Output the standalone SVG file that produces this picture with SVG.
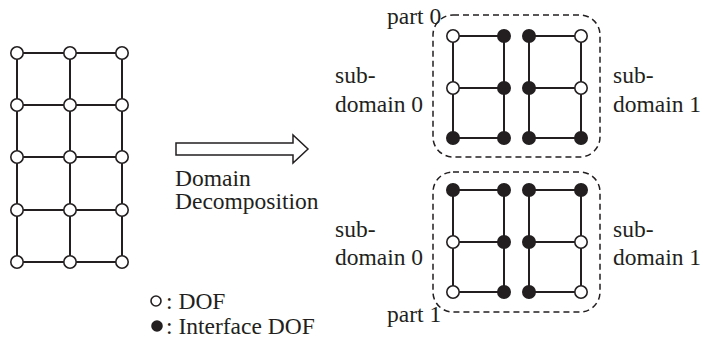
<svg xmlns="http://www.w3.org/2000/svg" width="704" height="339" viewBox="0 0 704 339">
<style>
.e{stroke:#231f20;stroke-width:2;fill:none}
.o{fill:#fff;stroke:#231f20;stroke-width:1.6}
.f{fill:#231f20;stroke:#231f20;stroke-width:1.6}
.t{font-family:"Liberation Serif","Times New Roman",serif;font-size:23.5px;fill:#231f20}
.d{fill:none;stroke:#231f20;stroke-width:1.5;stroke-dasharray:6 4}
</style>
<rect width="704" height="339" fill="#fff"/>
<g id="connectors">
<path class="e" d="M17 53H122M17 105H122M17 157H122M17 210H122M17 262H122M17 53V262M70 53V262M122 53V262"/>
<path class="e" d="M453 36H504M529 36H581M453 88H504M529 88H581M453 138H504M529 138H581M453 36V138M504 36V138M529 36V138M581 36V138"/>
<path class="e" d="M453 190H504M529 190H581M453 242H504M529 242H581M453 292H504M529 292H581M453 190V292M504 190V292M529 190V292M581 190V292"/>
<polygon points="176,143 293,143 293,135 308,149 293,163 293,155 176,155" fill="#fff" stroke="#231f20" stroke-width="1.5"/>
</g>
<g id="mesh">
<circle class="o" cx="17" cy="53" r="6.2"/><circle class="o" cx="70" cy="53" r="6.2"/><circle class="o" cx="122" cy="53" r="6.2"/>
<circle class="o" cx="17" cy="105" r="6.2"/><circle class="o" cx="70" cy="105" r="6.2"/><circle class="o" cx="122" cy="105" r="6.2"/>
<circle class="o" cx="17" cy="157" r="6.2"/><circle class="o" cx="70" cy="157" r="6.2"/><circle class="o" cx="122" cy="157" r="6.2"/>
<circle class="o" cx="17" cy="210" r="6.2"/><circle class="o" cx="70" cy="210" r="6.2"/><circle class="o" cx="122" cy="210" r="6.2"/>
<circle class="o" cx="17" cy="262" r="6.2"/><circle class="o" cx="70" cy="262" r="6.2"/><circle class="o" cx="122" cy="262" r="6.2"/>
</g>
<g id="arrow-label">
<text class="t" x="175" y="186">Domain</text>
<text class="t" x="175" y="209">Decomposition</text>
</g>
<g id="part0">
<rect class="d" x="433" y="15" width="167" height="142" rx="20"/>
<text class="t" x="387" y="24">part 0</text>
<text class="t" x="335" y="83">sub-</text>
<text class="t" x="335" y="112">domain 0</text>
<text class="t" x="613" y="83">sub-</text>
<text class="t" x="613" y="112">domain 1</text>
<circle class="o" cx="453" cy="36" r="6.2"/><circle class="f" cx="504" cy="36" r="6.2"/><circle class="f" cx="529" cy="36" r="6.2"/><circle class="o" cx="581" cy="36" r="6.2"/>
<circle class="o" cx="453" cy="88" r="6.2"/><circle class="f" cx="504" cy="88" r="6.2"/><circle class="f" cx="529" cy="88" r="6.2"/><circle class="o" cx="581" cy="88" r="6.2"/>
<circle class="f" cx="453" cy="138" r="6.2"/><circle class="f" cx="504" cy="138" r="6.2"/><circle class="f" cx="529" cy="138" r="6.2"/><circle class="f" cx="581" cy="138" r="6.2"/>
</g>
<g id="part1">
<rect class="d" x="433" y="172" width="167" height="140" rx="20"/>
<text class="t" x="387" y="322">part 1</text>
<text class="t" x="335" y="237">sub-</text>
<text class="t" x="335" y="265">domain 0</text>
<text class="t" x="613" y="237">sub-</text>
<text class="t" x="613" y="265">domain 1</text>
<circle class="f" cx="453" cy="190" r="6.2"/><circle class="f" cx="504" cy="190" r="6.2"/><circle class="f" cx="529" cy="190" r="6.2"/><circle class="f" cx="581" cy="190" r="6.2"/>
<circle class="o" cx="453" cy="242" r="6.2"/><circle class="f" cx="504" cy="242" r="6.2"/><circle class="f" cx="529" cy="242" r="6.2"/><circle class="o" cx="581" cy="242" r="6.2"/>
<circle class="o" cx="453" cy="292" r="6.2"/><circle class="f" cx="504" cy="292" r="6.2"/><circle class="f" cx="529" cy="292" r="6.2"/><circle class="o" cx="581" cy="292" r="6.2"/>
</g>
<g id="legend">
<circle class="o" cx="156" cy="301" r="5"/>
<text class="t" x="166" y="309">: DOF</text>
<circle class="f" cx="157" cy="326" r="5"/>
<text class="t" x="166" y="334">: Interface DOF</text>
</g>
</svg>
